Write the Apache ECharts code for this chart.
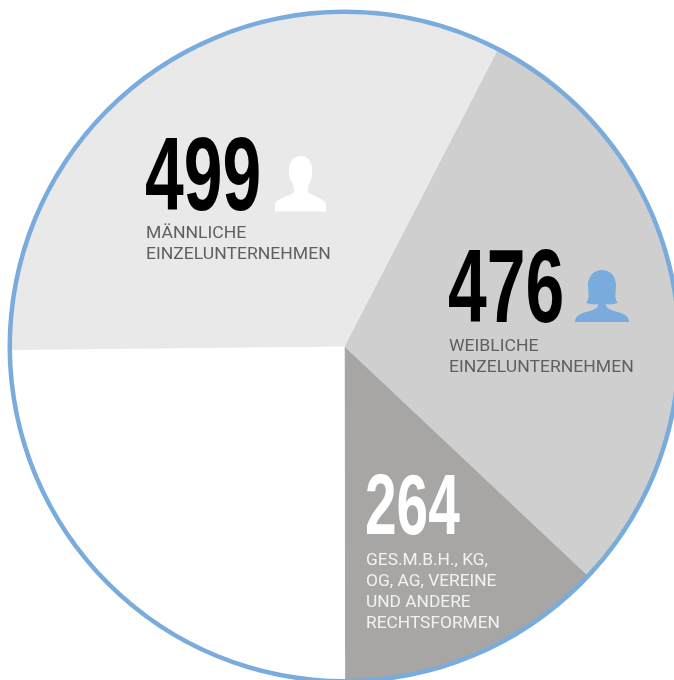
<!DOCTYPE html>
<html><head><meta charset="utf-8">
<style>html,body{margin:0;padding:0;background:#fff}#c{width:674px;height:680px}</style>
<script src="https://cdn.jsdelivr.net/npm/echarts@6/dist/echarts.min.js"></script>
</head><body><div id="c"></div>
<script>
// Printed figures
const counts = [476, 264, 499];
// Wedge sizes as drawn in the picture (degrees); they are not proportional to the printed figures
const wedgeDegrees = [106, 46.6, 89.5, 117.9];
const wedgeNames = ['Weibliche Einzelunternehmen', 'Ges.m.b.H., KG, OG, AG, Vereine und andere Rechtsformen', 'Rest', 'Männliche Einzelunternehmen'];
const wedgeColors = ['#cfcfcf', '#a7a6a4', '#ffffff', '#e9e9e9'];
const captionFemale = ['WEIBLICHE', 'EINZELUNTERNEHMEN'];
const captionOther = ['GES.M.B.H., KG,', 'OG, AG, VEREINE', 'UND ANDERE', 'RECHTSFORMEN'];
const captionMale = ['MÄNNLICHE', 'EINZELUNTERNEHMEN'];

function number(v, x, y, fill, size, sx) {
  return {type:'text', x, y, z:100, scaleX:sx, silent:true,
    style:{text:String(v), font:'bold '+size+'px "Liberation Sans Narrow","Liberation Sans",sans-serif', fill, textVerticalAlign:'top'}};
}
function caption(lines, x, y, fill, step, sx) {
  return lines.map((t,i)=>({type:'text', x, y:y+i*step, z:100, scaleX:sx, silent:true,
    style:{text:t, font:'16.5px Roboto,"Noto Sans",sans-serif', fill, textVerticalAlign:'middle'}}));
}
const male = 'M275 211.5 L275 203 C279 198 286 197 293 193 C295 191 294 188 293 184 C290 181 289 177 289 172 C288 162 294 156 301 156 C308 156 313 162 312 172 C312 177 311 181 309 184 C308 188 307 191 309 193 C316 197 322 198 326 203 L326 211.5 Z';
const female = 'M575 322 C575 315 582 313 590 311 C595 309 598 308 598 304 C594 305 590 304 586 303 C589 300 589 295 588 288 C587 276 594 270 602 270 C610 270 617 276 616 288 C615 295 615 300 618 303 C614 304 610 305 606 304 C606 308 609 309 614 311 C622 313 629 315 629 322 Z';

const chart = echarts.init(document.getElementById('c'));
chart.setOption({
  animation:false,
  backgroundColor:'#fff',
  series:[
    {type:'pie', silent:true, center:[344.5,346.5], radius:[331,337], label:{show:false}, labelLine:{show:false},
     data:[{value:1, itemStyle:{color:'#7aabdd'}}]},
    {type:'pie', silent:true, center:[344.5,346.5], radius:[0,332.5], startAngle:62.7, clockwise:true, label:{show:false}, labelLine:{show:false},
     data:wedgeDegrees.map((v,i)=>({value:v, name:wedgeNames[i], itemStyle:{color:wedgeColors[i]}}))},
    {type:'custom', coordinateSystem:'none', silent:true, z:5, data:[0],
     renderItem:()=>({type:'group', children:[
       {type:'path', shape:{pathData:male, x:275, y:156, width:51, height:55.5, layout:'cover'}, style:{fill:'#ffffff'}},
       {type:'path', shape:{pathData:female, x:575, y:270, width:54, height:52, layout:'cover'}, style:{fill:'#7aabdd'}}
     ]})}
  ],
  graphic:{z:100, elements:[
    {type:'group', silent:true, z:100, children:[
      number(counts[2], 145, 129, '#000', 104, 0.67),
      number(counts[0], 448, 241, '#000', 104, 0.67),
      number(counts[1], 365, 467, '#fff', 86, 0.66),
      ...caption(captionMale, 146, 234, '#5f5f5f', 21, 1.065),
      ...caption(captionFemale, 449, 347, '#5f5f5f', 21, 1.065),
      ...caption(captionOther, 366, 561, '#f2f2f2', 21, 1.05)
    ]}
  ]}
});
</script></body></html>
